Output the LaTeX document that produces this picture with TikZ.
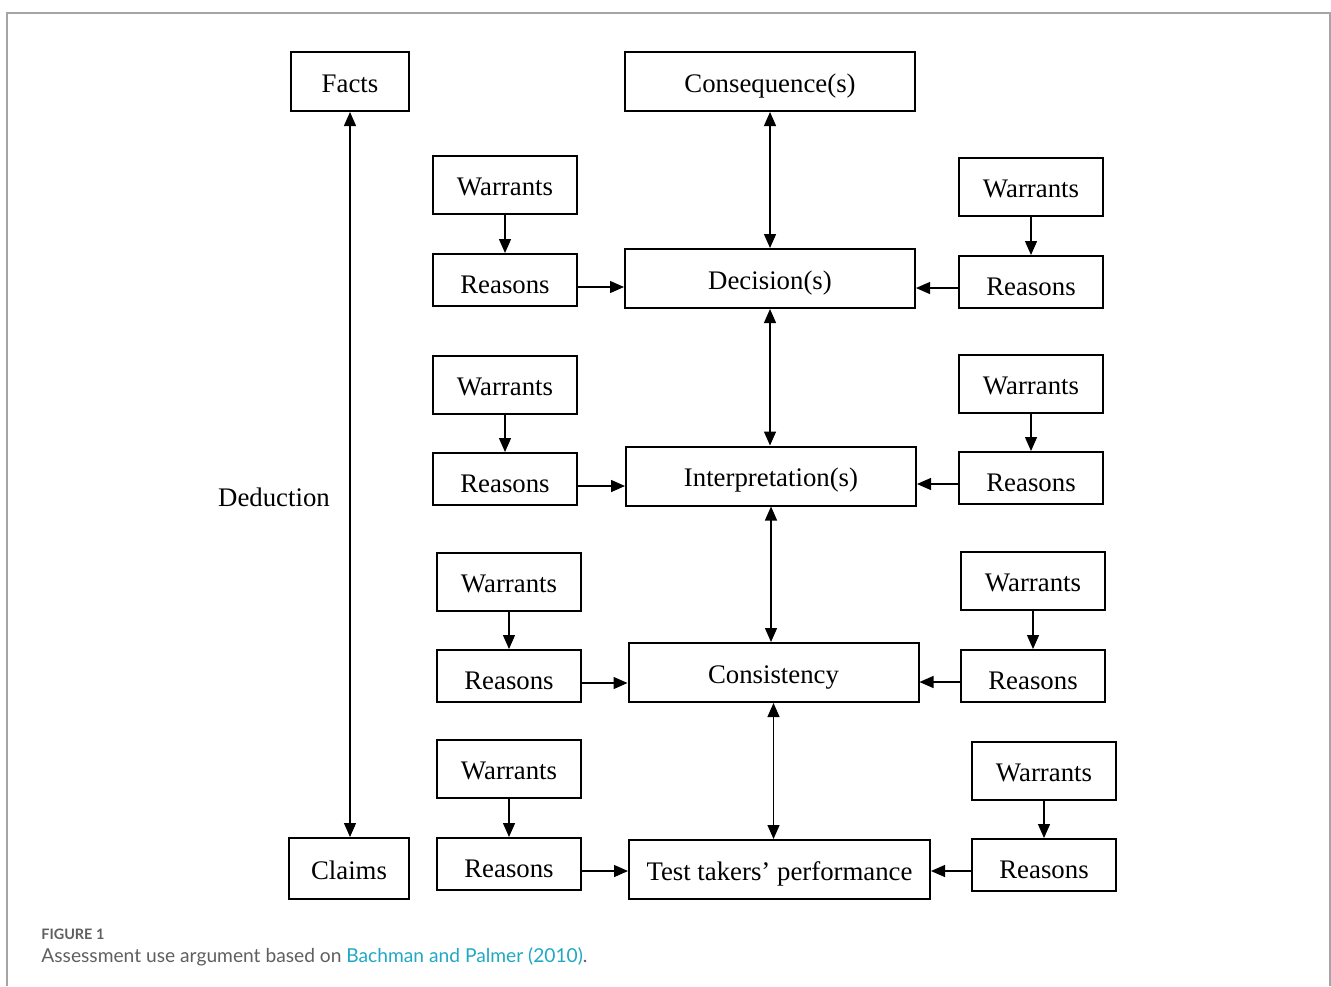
\documentclass[tikz,border=0pt]{standalone}
\usepackage{fontspec}
\setmainfont{Liberation Serif}
\newfontfamily\capfont{Lato}
\usetikzlibrary{arrows.meta,calc}
\definecolor{framegray}{RGB}{165,165,165}
\definecolor{capgray}{RGB}{95,95,95}
\definecolor{linkteal}{RGB}{32,168,196}

\begin{document}
\begin{tikzpicture}[x=0.5pt,y=-0.5pt,
  box/.style={draw,line width=1pt,inner sep=0pt,font=\fontsize{13.4}{15}\selectfont,
    text height=12pt,text depth=1.5pt},
  wbox/.style={box,minimum width=72pt,minimum height=29pt},
  rbox/.style={box,minimum width=72pt,minimum height=26pt,text height=14.5pt},
  mainbox/.style={box,minimum width=145pt,minimum height=29.5pt},
  arr/.style={-{Triangle[length=7pt,width=6pt]},line width=0.65pt},
  darr/.style={{Triangle[length=7pt,width=6pt]}-{Triangle[length=7pt,width=6pt]},line width=0.65pt}]
\useasboundingbox (0,0) rectangle (1331,986);
% frame
\draw[framegray,line width=0.8pt] (7,986) -- (7,13) -- (1330,13) -- (1330,986);

% left column
\node[box,minimum width=59pt,minimum height=29.5pt] (facts) at (350,81.5) {Facts};
\node[box,minimum width=60pt,minimum height=30.5pt] (claims) at (349,868.5) {Claims};
\node[font=\fontsize{13.4}{15}\selectfont] (deduct) at (274,497) {Deduction};
\draw[darr] (facts.south) -- (facts.south |- claims.north);

% middle column
\node[mainbox] (conseq) at (770,81.5) {Consequence(s)};
\node[mainbox] (decis) at (770,278.5) {Decision(s)};
\node[mainbox] (interp) at (771,476) {Interpretation(s)};
\node[mainbox] (consist) at (773.5,672.5) {Consistency};
\node[mainbox,minimum width=150.5pt] (perf) at (779.5,869.5) {Test takers’ performance};
\draw[darr] (conseq.south) -- (decis.north);
\draw[darr] (decis.south) -- (interp.north -| decis.south);
\draw[darr] (interp.south) -- (consist.north -| interp.south);
\draw[darr] (consist.south) -- (perf.north -| consist.south);

% warrants and reasons, left
\foreach \n/\x/\wy/\ry/\tgt in {1/505/185/280/decis,2/505/384.5/479/interp,3/509/581.5/676/consist,4/509/769/864/perf}{
  \node[wbox] (wl\n) at (\x,\wy) {Warrants};
  \node[rbox] (rl\n) at (\x,\ry) {Reasons};
  \draw[arr] (wl\n) -- (rl\n);
  \path (rl\n.east) ++(0,7) coordinate (pl\n);
  \draw[arr] (pl\n) -- (pl\n -| \tgt.west);
}
% warrants and reasons, right
\foreach \n/\x/\wy/\ry/\tgt in {1/1031/187/282/decis,2/1031/383.5/478/interp,3/1033/581/676/consist,4/1044/770.5/865/perf}{
  \node[wbox] (wr\n) at (\x,\wy) {Warrants};
  \node[rbox] (rr\n) at (\x,\ry) {Reasons};
  \draw[arr] (wr\n) -- (rr\n);
  \path (rr\n.west) ++(0,6) coordinate (pr\n);
  \draw[arr] (pr\n) -- (pr\n -| \tgt.east);
}

% caption
\node[anchor=base west,inner sep=0pt,capgray,font=\capfont\bfseries\fontsize{7.2}{9}\selectfont] (fig) at (41,939) {FIGURE 1};
\node[anchor=base west,inner sep=0pt,capgray,font=\capfont\fontsize{9.6}{12}\selectfont] (cap) at (41,962) {Assessment use argument based on \textcolor{linkteal}{Bachman and Palmer (2010)}.};
\end{tikzpicture}
\end{document}
